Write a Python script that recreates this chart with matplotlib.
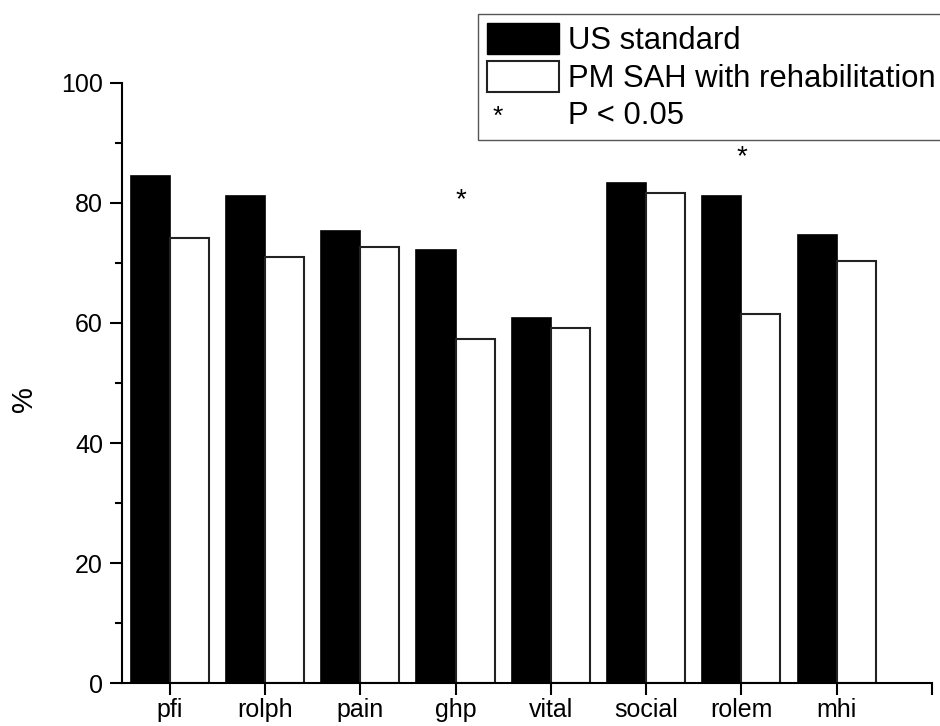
import numpy as np
import matplotlib.pyplot as plt
from matplotlib.patches import Patch
from matplotlib.legend_handler import HandlerBase
from matplotlib.text import Text

plt.rcParams['font.family'] = ['Liberation Sans', 'DejaVu Sans']

# data
categories = ['pfi', 'rolph', 'pain', 'ghp', 'vital', 'social', 'rolem', 'mhi']
us_standard = [84.5, 81.2, 75.4, 72.2, 60.9, 83.4, 81.2, 74.7]
pm_sah = [74.1, 71.0, 72.6, 57.4, 59.1, 81.6, 61.5, 70.3]
# significance markers (x position, y baseline)
sig_x = [4.06, 7.0]
sig_y = [79.3, 86.5]


class StarHandler(HandlerBase):
    # legend handle that is just a small asterisk at the left of the handle box
    def create_artists(self, legend, orig_handle, xdescent, ydescent,
                       width, height, fontsize, trans):
        t = Text(-xdescent + 0.08 * width, -ydescent, '*',
                 fontsize=19, ha='left', va='bottom', transform=trans)
        return [t]


fig = plt.figure(figsize=(9.4, 7.26), dpi=100)
ax = fig.add_axes([0.1298, 0.0592, 0.8617, 0.8265])

x = np.arange(1, len(categories) + 1)
w = 0.41
ax.bar(x, us_standard, width=-w, align='edge', color='black',
       edgecolor='black', linewidth=1.2, label='US standard')
ax.bar(x, pm_sah, width=w, align='edge', color='white',
       edgecolor='#222222', linewidth=1.5, label='PM SAH with rehabilitation')

for sx, sy in zip(sig_x, sig_y):
    ax.text(sx, sy, '*', fontsize=20, ha='center', va='baseline')

ax.set_xlim(0.5, 9.0)
ax.set_ylim(0, 100)
ax.set_xticks(list(x) + [9])
ax.set_xticklabels(categories + [''])
ax.set_yticks([0, 20, 40, 60, 80, 100])
ax.set_yticks([10, 30, 50, 70, 90], minor=True)

for s in ['top', 'right']:
    ax.spines[s].set_visible(False)
for s in ['left', 'bottom']:
    ax.spines[s].set_linewidth(1.5)

ax.tick_params(axis='both', which='major', length=8.6, width=1.5, labelsize=18)
ax.tick_params(axis='x', pad=2.5)
ax.tick_params(axis='y', pad=5)
ax.tick_params(axis='y', which='minor', length=5, width=1.5)
ax.set_ylabel('%', fontsize=21)
ax.yaxis.set_label_coords(-0.104, 0.473)

star_handle = Patch(facecolor='none', edgecolor='none')
handles = [Patch(facecolor='black', edgecolor='black'),
           Patch(facecolor='white', edgecolor='#222222', linewidth=1.5),
           star_handle]
labels = ['US standard', 'PM SAH with rehabilitation', 'P < 0.05']
leg = fig.legend(handles, labels, loc='upper left',
                 bbox_to_anchor=(0.5085, 0.9807), bbox_transform=fig.transFigure,
                 fontsize=22.3, handlelength=2.3, handleheight=1.15,
                 handletextpad=0.3, labelspacing=0.15, borderpad=0.3,
                 borderaxespad=0, fancybox=False, framealpha=1,
                 handler_map={star_handle: StarHandler()})
leg.get_frame().set_edgecolor('#555555')
leg.get_frame().set_linewidth(1.0)

fig.savefig('out.png', dpi=100)
